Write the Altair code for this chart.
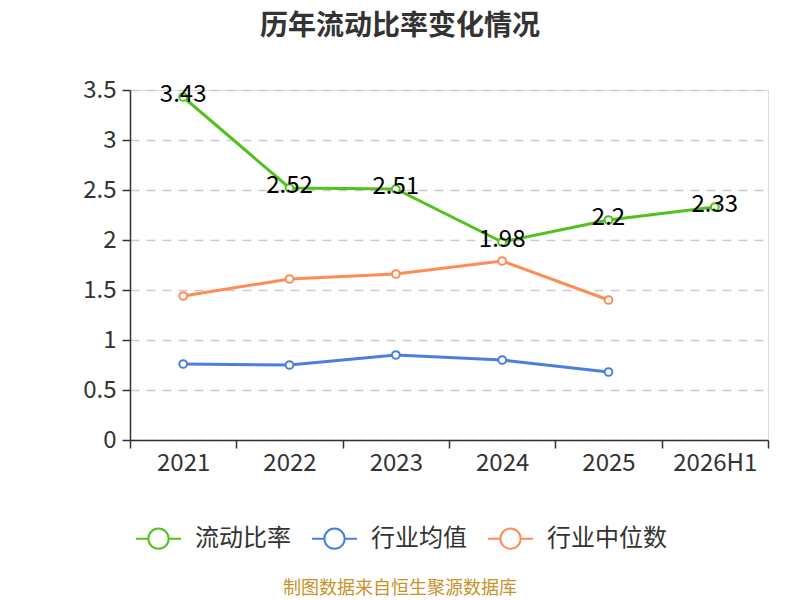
import altair as alt
import pandas as pd

years = ["2021", "2022", "2023", "2024", "2025", "2026H1"]
ratio = [3.43, 2.52, 2.51, 1.98, 2.2, 2.33]
ind_avg = [0.76, 0.75, 0.85, 0.80, 0.68]
ind_median = [1.44, 1.61, 1.66, 1.79, 1.40]

series = ["流动比率", "行业均值", "行业中位数"]
colors = ["#52c11c", "#4a7fe0", "#ff8c55"]

rows = []
for y, v in zip(years, ratio):
    rows.append({"year": y, "value": v, "series": "流动比率"})
for y, v in zip(years, ind_avg):
    rows.append({"year": y, "value": v, "series": "行业均值"})
for y, v in zip(years, ind_median):
    rows.append({"year": y, "value": v, "series": "行业中位数"})
df = pd.DataFrame(rows)

FONT = "Noto Sans CJK SC"
legend_path = ("M-1,0L-0.45,0M0.45,0L1,0"
               "M-0.45,0A0.45,0.45,0,1,1,0.45,0A0.45,0.45,0,1,1,-0.45,0Z")

x_enc = alt.X("year:N", sort=years, title=None,
              scale=alt.Scale(domain=years, paddingInner=0, paddingOuter=0),
              axis=alt.Axis(labelAngle=0, tickBand="extent", tickSize=8,
                            labelPadding=3, labelFontSize=24, labelColor="#333",
                            domainColor="#333", tickColor="#333", grid=False,
                            domainWidth=1.5, tickWidth=1.5))
y_enc = alt.Y("value:Q", title=None,
              scale=alt.Scale(domain=[0, 3.5], nice=False),
              axis=alt.Axis(values=[0, 0.5, 1, 1.5, 2, 2.5, 3, 3.5], format="~g",
                            tickSize=8, labelPadding=6, labelFontSize=24,
                            labelColor="#333", domainColor="#333", tickColor="#333",
                            domainWidth=1.5, tickWidth=1.5,
                            gridColor="#cccccc", gridDash=[9, 7], gridWidth=1.5))
color_scale = alt.Scale(domain=series, range=colors)

base = alt.Chart(df).encode(x=x_enc, y=y_enc)

lines = base.mark_line(strokeWidth=3).encode(
    color=alt.Color("series:N", scale=color_scale, sort=series,
                    legend=alt.Legend(title=None, orient="none", direction="horizontal",
                                      legendX=5, legendY=425,
                                      symbolType=legend_path, symbolSize=2025,
                                      symbolStrokeWidth=2, symbolFillColor="white",
                                      labelFontSize=24, labelColor="#333",
                                      labelOffset=13, columnPadding=17))
)

points = base.mark_point(filled=False, fill="white", size=60, strokeWidth=2, opacity=1).encode(
    stroke=alt.Stroke("series:N", scale=color_scale, legend=None)
)

labels = base.transform_filter(alt.datum.series == "流动比率").mark_text(
    fontSize=24, color="black", dy=-2, baseline="middle", font=FONT
).encode(text=alt.Text("value:Q", format="~g"))

source = alt.Chart(pd.DataFrame({"t": ["制图数据来自恒生聚源数据库"]})).mark_text(
    fontSize=18, color="#c8922a", align="center", baseline="middle", font=FONT
).encode(x=alt.value(270), y=alt.value(499), text="t:N")

chart = alt.layer(lines, points, labels, source).properties(
    width=638, height=350,
    autosize=alt.AutoSizeParams(type="none"),
    padding={"left": 122, "top": 82, "right": 24, "bottom": 160},
    title=alt.Title("历年流动比率变化情况", fontSize=28, fontWeight="bold",
                    color="#333", anchor="middle", dx=-49, offset=37, font=FONT),
).configure_view(stroke=None).configure(font=FONT)

chart.save("out.html", embed_options={"renderer": "svg", "actions": False})
